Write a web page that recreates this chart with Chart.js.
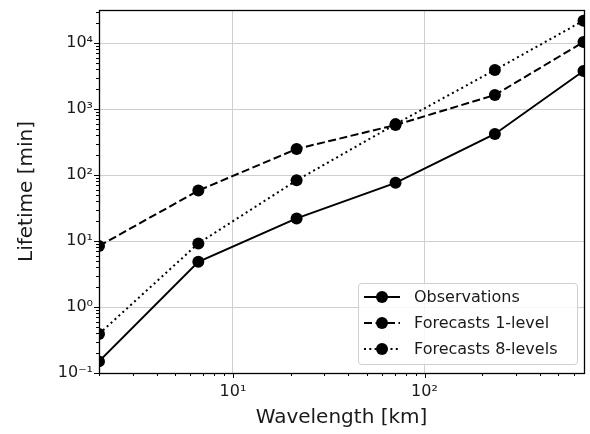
<!DOCTYPE html>
<html>
<head>
<meta charset="utf-8">
<script src="https://cdn.jsdelivr.net/npm/chart.js@4"></script>
<style>
  html, body { margin: 0; padding: 0; background: #fff; }
  #wrap { width: 590px; height: 434px; position: relative; }
</style>
</head>
<body>
<div id="wrap"><canvas id="chart"></canvas></div>
<script>
// wavelengths [km] and lifetimes [min]
const wavelengths = [2.0, 6.6, 21.5, 70.6, 233, 676];
const observations = [0.15, 4.85, 22, 76, 418, 3770];
const forecasts1 = [8.4, 58, 248, 572, 1630, 10350];
const forecasts8 = [0.39, 9.2, 83, 590, 3900, 21800];

const seriesNames = ['Observations', 'Forecasts 1-level', 'Forecasts 8-levels'];
const seriesDash = [[], [8, 3.5], [2, 3.3]];

const xRange = [2.0, 680];
const yRange = [0.1, 31623];

const FONT = "'DejaVu Sans', sans-serif";
const TEXT = '#1a1a1a';
const SUP = {'-': '\u207B', '0': '\u2070', '1': '\u00B9', '2': '\u00B2', '3': '\u00B3', '4': '\u2074',
             '5': '\u2075', '6': '\u2076', '7': '\u2077', '8': '\u2078', '9': '\u2079'};

function isDecade(v) {
    const l = Math.log10(v);
    return Math.abs(l - Math.round(l)) < 1e-6;
}
function decadeLabel(v) {
    if (!isDecade(v)) return '';
    return '10' + String(Math.round(Math.log10(v))).split('').map(c => SUP[c]).join('');
}

function toPoints(ys) {
    return wavelengths.map((w, i) => ({ x: w, y: ys[i] }));
}

// frame, tick marks and the legend, drawn after the chart
const decorations = {
    id: 'decorations',
    afterDraw(chart) {
        const ctx = chart.ctx;
        const a = chart.chartArea;
        const xs = chart.scales.x, ys = chart.scales.y;
        ctx.save();
        ctx.strokeStyle = '#000';
        ctx.lineWidth = 1;

        // tick marks (major + minor)
        const drawTicks = (scale, lo, hi, horiz) => {
            for (let e = Math.floor(Math.log10(lo)); e <= Math.ceil(Math.log10(hi)); e++) {
                for (let m = 1; m <= 9; m++) {
                    const v = m * Math.pow(10, e);
                    if (v < lo * 0.999 || v > hi * 1.001) continue;
                    const p = Math.round(scale.getPixelForValue(v)) + 0.5;
                    const len = m === 1 ? 5 : 3;
                    ctx.beginPath();
                    if (horiz) { ctx.moveTo(p, a.bottom); ctx.lineTo(p, a.bottom + len); }
                    else { ctx.moveTo(a.left, p); ctx.lineTo(a.left - len, p); }
                    ctx.stroke();
                }
            }
        };
        drawTicks(xs, xRange[0], xRange[1], true);
        drawTicks(ys, yRange[0], yRange[1], false);

        // frame
        ctx.lineWidth = 1.3;
        ctx.strokeRect(Math.round(a.left) + 0.5, Math.round(a.top) + 0.5,
            Math.round(a.right - a.left), Math.round(a.bottom - a.top));

        // legend
        const bx = 358, by = 283, bw = 219, bh = 81;
        ctx.lineWidth = 1;
        ctx.fillStyle = 'rgba(255,255,255,0.85)';
        ctx.strokeStyle = '#d0d0d0';
        ctx.beginPath();
        ctx.roundRect(bx + 0.5, by + 0.5, bw, bh, 3);
        ctx.fill();
        ctx.stroke();

        ctx.font = '16px ' + FONT;
        ctx.textBaseline = 'middle';
        seriesNames.forEach((name, i) => {
            const cy = by + 14 + i * 26;
            ctx.strokeStyle = '#000';
            ctx.lineWidth = 2;
            ctx.setLineDash(seriesDash[i]);
            ctx.beginPath();
            ctx.moveTo(364, cy);
            ctx.lineTo(400, cy);
            ctx.stroke();
            ctx.setLineDash([]);
            ctx.fillStyle = '#000';
            ctx.beginPath();
            ctx.arc(382, cy, 6, 0, Math.PI * 2);
            ctx.fill();
            ctx.fillStyle = TEXT;
            ctx.fillText(name, 414, cy + 1);
        });
        ctx.restore();
    }
};

const datasets = [observations, forecasts1, forecasts8].map((ys, i) => ({
    label: seriesNames[i],
    data: toPoints(ys),
    borderColor: '#000',
    backgroundColor: '#000',
    borderWidth: 2,
    borderDash: seriesDash[i],
    pointRadius: 6,
    pointHoverRadius: 6,
    pointBackgroundColor: '#000',
    pointBorderWidth: 0,
    tension: 0
}));

const gridColor = (c) => (c.tick && isDecade(c.tick.value)) ? '#cfcfcf' : 'rgba(0,0,0,0)';

new Chart(document.getElementById('chart'), {
    type: 'line',
    data: { datasets },
    plugins: [decorations],
    options: {
        responsive: true,
        maintainAspectRatio: false,
        animation: false,
        layout: { padding: { top: 10, right: 5, left: 0, bottom: 0 } },
        plugins: { legend: { display: false }, tooltip: { enabled: false } },
        scales: {
            x: {
                type: 'logarithmic',
                min: xRange[0],
                max: xRange[1],
                afterFit: (s) => { s.height = 61; s.paddingLeft = 0; s.paddingRight = 0; },
                grid: { color: gridColor, lineWidth: 1, drawTicks: false },
                border: { display: false },
                ticks: {
                    autoSkip: false,
                    maxRotation: 0,
                    padding: 9,
                    color: TEXT,
                    font: { family: FONT, size: 16 },
                    callback: (v) => decadeLabel(v)
                },
                title: {
                    display: true,
                    text: 'Wavelength [km]',
                    color: TEXT,
                    font: { family: FONT, size: 20 },
                    padding: { top: 0, bottom: 4 }
                }
            },
            y: {
                type: 'logarithmic',
                min: yRange[0],
                max: yRange[1],
                afterFit: (s) => { s.width = 99; s.paddingTop = 0; s.paddingBottom = 0; },
                grid: { color: gridColor, lineWidth: 1, drawTicks: false },
                border: { display: false },
                ticks: {
                    autoSkip: false,
                    padding: 6,
                    color: TEXT,
                    font: { family: FONT, size: 16 },
                    callback: (v) => decadeLabel(v)
                },
                title: {
                    display: true,
                    text: 'Lifetime [min]',
                    color: TEXT,
                    font: { family: FONT, size: 20 },
                    padding: { top: 15, bottom: 0 }
                }
            }
        }
    }
});
</script>
</body>
</html>
